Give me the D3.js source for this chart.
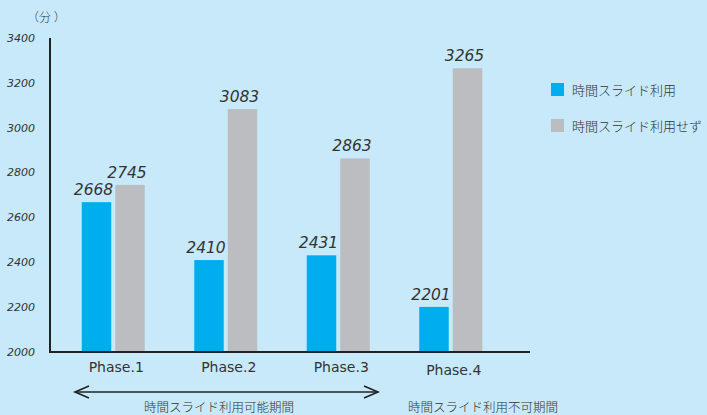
<!DOCTYPE html>
<html>
<head>
<meta charset="utf-8">
<script src="https://cdn.jsdelivr.net/npm/d3@7"></script>
<style>
  html, body { margin: 0; padding: 0; background: #c7e9f9; }
  svg { display: block; }
</style>
</head>
<body>
<div id="chart"></div>
<script>
// Data
const phases      = ["Phase.1", "Phase.2", "Phase.3", "Phase.4"];
const seriesNames = ["時間スライド利用", "時間スライド利用せず"];
const withSlide   = [2668, 2410, 2431, 2201];
const noSlide     = [2745, 3083, 2863, 3265];
const yTicks      = [2000, 2200, 2400, 2600, 2800, 3000, 3200, 3400];

const width  = 707;
const height = 415;

const blue_color = '#00aeef';
const gray_color = '#bcbdc1';
const text_color = '#333333';
const axis_color = '#222222';
const cjk_font   = '"Noto Sans CJK JP", "Noto Sans", sans-serif';
const num_font   = '"DejaVu Sans", sans-serif';

const rows = phases.map((p, i) => ({ phase: p, values: [withSlide[i], noSlide[i]] }));

const svg = d3.select("#chart").append("svg")
  .attr("width", width)
  .attr("height", height)
  .style("font-family", cjk_font);

svg.append("rect").attr("width", width).attr("height", height).attr("fill", "#c7e9f9");

// Scales
const x = d3.scaleBand()
  .domain(phases)
  .range([57, 507])
  .paddingInner(0.44)
  .paddingOuter(0.22);

const xInner = d3.scaleBand()
  .domain([0, 1])
  .range([0, x.bandwidth()])
  .paddingInner(0.12);

const y = d3.scaleLinear()
  .domain([2000, 3400])
  .range([352, 38]);

// Y tick labels
svg.append("g").selectAll("text")
  .data(yTicks)
  .enter().append("text")
  .attr("x", 35)
  .attr("y", d => y(d))
  .attr("dy", "0.35em")
  .attr("text-anchor", "end")
  .style("font-family", num_font)
  .style("font-style", "italic")
  .style("font-size", "11px")
  .style("fill", text_color)
  .text(d => d);

// Unit label
svg.append("text")
  .attr("x", 27)
  .attr("y", 22)
  .style("font-size", "12px")
  .style("font-weight", 300)
  .style("fill", text_color)
  .text("（分 ）");

// Bars
const groups = svg.append("g").selectAll("g")
  .data(rows)
  .enter().append("g")
  .attr("transform", d => `translate(${x(d.phase)},0)`);

groups.selectAll("rect")
  .data(d => d.values.map((v, i) => ({ v, i })))
  .enter().append("rect")
  .attr("x", d => xInner(d.i))
  .attr("width", xInner.bandwidth())
  .attr("y", d => y(d.v))
  .attr("height", d => y(2000) - y(d.v))
  .attr("fill", d => d.i === 0 ? blue_color : gray_color);

// Value labels
groups.selectAll("text")
  .data(d => d.values.map((v, i) => ({ v, i })))
  .enter().append("text")
  .attr("x", d => xInner(d.i) + xInner.bandwidth() / 2 - 3)
  .attr("y", d => y(d.v) - 7)
  .attr("text-anchor", "middle")
  .style("font-family", num_font)
  .style("font-style", "italic")
  .style("font-size", "15.5px")
  .style("fill", text_color)
  .text(d => d.v);

// Axes lines
svg.append("line")
  .attr("x1", 50).attr("x2", 50)
  .attr("y1", y(3400)).attr("y2", y(2000) + 1)
  .attr("stroke", axis_color).attr("stroke-width", 2);

svg.append("line")
  .attr("x1", 49).attr("x2", 530)
  .attr("y1", y(2000)).attr("y2", y(2000))
  .attr("stroke", axis_color).attr("stroke-width", 2);

// Category labels
svg.append("g").selectAll("text")
  .data(phases)
  .enter().append("text")
  .attr("x", d => x(d) + x.bandwidth() / 2 + 3)
  .attr("y", (d, i) => i === 3 ? 375 : 372)
  .attr("text-anchor", "middle")
  .style("font-family", num_font)
  .style("font-size", "14px")
  .style("fill", text_color)
  .text(d => d);

// Double arrow over the period in which time slide was available
const arrowY = 392;
const ax1 = 75, ax2 = 378;
svg.append("line")
  .attr("x1", ax1).attr("x2", ax2)
  .attr("y1", arrowY).attr("y2", arrowY)
  .attr("stroke", axis_color).attr("stroke-width", 1.6);
svg.append("path")
  .attr("d", `M${ax1 + 14},${arrowY - 6} L${ax1},${arrowY} L${ax1 + 14},${arrowY + 6}`)
  .attr("fill", "none").attr("stroke", axis_color).attr("stroke-width", 1.6);
svg.append("path")
  .attr("d", `M${ax2 - 14},${arrowY - 6} L${ax2},${arrowY} L${ax2 - 14},${arrowY + 6}`)
  .attr("fill", "none").attr("stroke", axis_color).attr("stroke-width", 1.6);

svg.append("text")
  .attr("x", 219).attr("y", 408)
  .attr("dy", "0.35em")
  .attr("text-anchor", "middle")
  .style("font-size", "12.5px")
  .style("font-weight", 300)
  .style("fill", text_color)
  .text("時間スライド利用可能期間");

svg.append("text")
  .attr("x", 483).attr("y", 408)
  .attr("dy", "0.35em")
  .attr("text-anchor", "middle")
  .style("font-size", "12.5px")
  .style("font-weight", 300)
  .style("fill", text_color)
  .text("時間スライド利用不可期間");

// Legend
const legend = svg.append("g").selectAll("g")
  .data(seriesNames)
  .enter().append("g")
  .attr("transform", (d, i) => `translate(551,${83 + i * 36})`);

legend.append("rect")
  .attr("width", 13).attr("height", 13)
  .attr("fill", (d, i) => i === 0 ? blue_color : gray_color);

legend.append("text")
  .attr("x", 21).attr("y", 7)
  .attr("dy", "0.35em")
  .style("font-size", "13px")
  .style("font-weight", 300)
  .style("fill", text_color)
  .text(d => d);
</script>
</body>
</html>
